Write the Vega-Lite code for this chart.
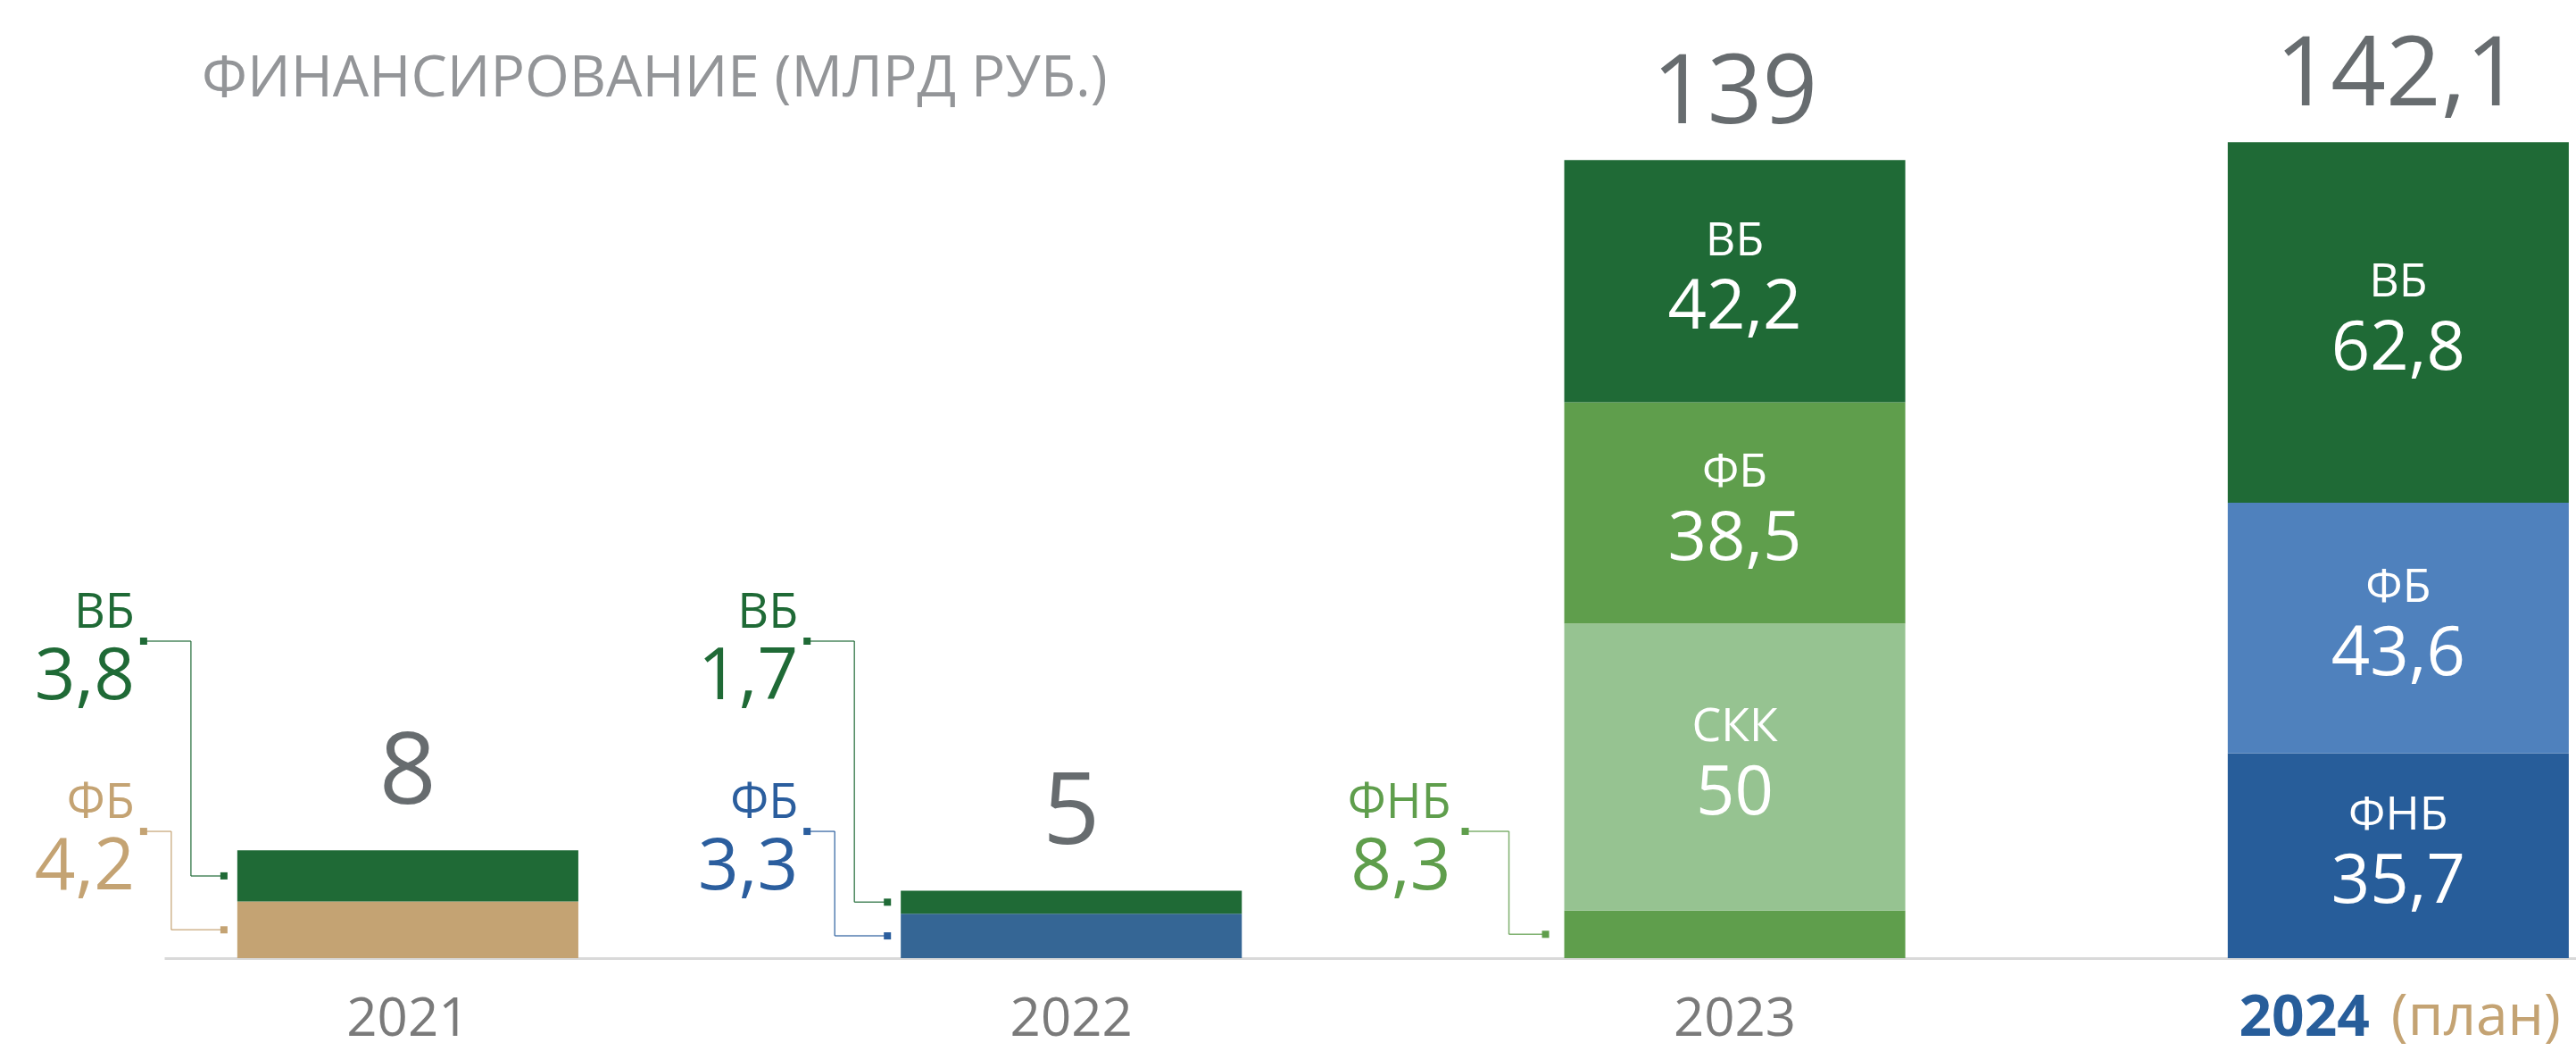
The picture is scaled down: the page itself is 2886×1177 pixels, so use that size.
{
  "$schema": "https://vega.github.io/schema/vega-lite/v6.json",
  "width": 2702,
  "height": 943,
  "padding": {"left": 184, "top": 130, "right": 0, "bottom": 104},
  "autosize": {"type": "none"},
  "background": "white",
  "config": {
    "view": {"stroke": null},
    "font": "Open Sans",
    "locale": {"number": {"decimal": ",", "thousands": "\u00a0", "grouping": [3], "currency": ["", "\u00a0₽"]}}
  },
  "title": {
    "text": "ФИНАНСИРОВАНИЕ (МЛРД РУБ.)",
    "anchor": "start",
    "frame": "group",
    "orient": "top",
    "offset": -140,
    "dx": 42,
    "baseline": "alphabetic",
    "fontSize": 64,
    "fontWeight": "normal",
    "font": "Open Sans",
    "color": "#939598"
  },
  "datasets": {
    "funding": [
      {"year": "2021", "source": "ФБ", "value": 4.2},
      {"year": "2021", "source": "ВБ", "value": 3.8},
      {"year": "2022", "source": "ФБ", "value": 3.3},
      {"year": "2022", "source": "ВБ", "value": 1.7},
      {"year": "2023", "source": "ФНБ", "value": 8.3},
      {"year": "2023", "source": "СКК", "value": 50},
      {"year": "2023", "source": "ФБ", "value": 38.5},
      {"year": "2023", "source": "ВБ", "value": 42.2},
      {"year": "2024", "source": "ФНБ", "value": 35.7},
      {"year": "2024", "source": "ФБ", "value": 43.6},
      {"year": "2024", "source": "ВБ", "value": 62.8}
    ]
  },
  "data": {"name": "funding"},
  "encoding": {
    "x": {
      "field": "year",
      "type": "nominal",
      "scale": {"domain": ["2021", "2022", "2023", "2024"], "paddingInner": 0.486, "paddingOuter": 0.0605, "align": 0.91, "round": false},
      "axis": {
        "title": null,
        "grid": false,
        "ticks": false,
        "tickSize": 0,
        "domainColor": "#d9d9d9",
        "domainWidth": 3,
        "labelAngle": 0,
        "labelPadding": 86,
        "labelBaseline": "alphabetic",
        "labelFont": "Open Sans",
        "labelFontSize": {"condition": {"test": "datum.value == '2024'", "value": 64}, "value": 60},
        "labelColor": {"condition": {"test": "datum.value == '2024'", "value": "#275d9a"}, "value": "#7a7a7a"},
        "labelFontWeight": {"condition": {"test": "datum.value == '2024'", "value": "bold"}, "value": "normal"},
        "labelAlign": {"condition": {"test": "datum.value == '2024'", "value": "right"}, "value": "center"},
        "labelOffset": {"condition": {"test": "datum.value == '2024'", "value": -32}, "value": 0}
      }
    }
  },
  "resolve": {"scale": {"y": "independent"}},
  "layer": [
    {
      "transform": [
        {"filter": {"field": "year", "oneOf": ["2021", "2022"]}},
        {"stack": "value", "groupby": ["year"], "as": ["y0", "y1"]},
        {"fold": ["y0", "y1"], "as": ["edge", "edgeValue"]},
        {"aggregate": [
          {"op": "min", "field": "edgeValue", "as": "y0"},
          {"op": "max", "field": "edgeValue", "as": "y1"},
          {"op": "mean", "field": "edgeValue", "as": "mid"}
        ], "groupby": ["year", "source", "value"]}
      ],
      "layer": [
        {
          "mark": {"type": "bar"},
          "encoding": {
            "y": {"field": "y1", "type": "quantitative", "scale": {"domain": [0, 62.45], "nice": false, "zero": true}, "axis": null},
            "y2": {"field": "y0"},
            "color": {"condition": [
              {"test": "datum.source == 'ВБ'", "value": "#1f6a36"},
              {"test": "datum.year == '2021'", "value": "#c4a373"},
              {"test": "datum.year == '2022'", "value": "#356695"},
              {"test": "datum.source == 'СКК'", "value": "#96c391"},
              {"test": "datum.year == '2023'", "value": "#5f9e4c"},
              {"test": "datum.source == 'ФБ'", "value": "#4f81bd"}
            ], "value": "#275d9a"}
          }
        },
        {
          "transform": [{"aggregate": [{"op": "max", "field": "y1", "as": "total"}], "groupby": ["year"]}],
          "mark": {"type": "text", "fontSize": 112, "color": "#676c6f", "baseline": "alphabetic", "align": "center", "dy": -52},
          "encoding": {
            "y": {"field": "total", "type": "quantitative", "scale": {"domain": [0, 62.45], "nice": false, "zero": true}, "axis": null},
            "text": {"field": "total", "type": "quantitative", "format": "~r"}
          }
        },
        {
          "transform": [{"filter": {"field": "source", "equal": "ВБ"}}],
          "encoding": {
            "color": {"condition": [
              {"test": "datum.source == 'ВБ'", "value": "#1f6a36"},
              {"test": "datum.year == '2021'", "value": "#c4a373"},
              {"test": "datum.year == '2022'", "value": "#2b5e9e"}
            ], "value": "#5f9e4c"}
          },
          "layer": [
            {
              "mark": {"type": "text", "align": "right", "baseline": "alphabetic", "dx": -306, "dy": -15, "fontSize": 54},
              "encoding": {
                "y": {"datum": 23.51, "type": "quantitative", "scale": {"domain": [0, 62.45], "nice": false, "zero": true}, "axis": null},
                "text": {"field": "source", "type": "nominal"}
              }
            },
            {
              "mark": {"type": "text", "align": "right", "baseline": "alphabetic", "dx": -306, "dy": 65, "fontSize": 80},
              "encoding": {
                "y": {"datum": 23.51, "type": "quantitative", "scale": {"domain": [0, 62.45], "nice": false, "zero": true}, "axis": null},
                "text": {"field": "value", "type": "quantitative", "format": "~r"}
              }
            },
            {
              "mark": {"type": "square", "size": 64, "filled": true, "opacity": 1, "xOffset": -296},
              "encoding": {
                "y": {"datum": 23.51, "type": "quantitative", "scale": {"domain": [0, 62.45], "nice": false, "zero": true}, "axis": null}
              }
            },
            {
              "mark": {"type": "tick", "orient": "horizontal", "size": 53, "thickness": 1.5, "opacity": 0.8, "xOffset": -269.5},
              "encoding": {
                "y": {"datum": 23.51, "type": "quantitative", "scale": {"domain": [0, 62.45], "nice": false, "zero": true}, "axis": null}
              }
            },
            {
              "mark": {"type": "rule", "strokeWidth": 1.5, "opacity": 0.8, "xOffset": -243},
              "encoding": {
                "y": {"field": "mid", "type": "quantitative", "scale": {"domain": [0, 62.45], "nice": false, "zero": true}, "axis": null},
                "y2": {"datum": 23.51}
              }
            },
            {
              "mark": {"type": "tick", "orient": "horizontal", "size": 37, "thickness": 1.5, "opacity": 0.8, "xOffset": -224.5},
              "encoding": {
                "y": {"field": "mid", "type": "quantitative", "scale": {"domain": [0, 62.45], "nice": false, "zero": true}, "axis": null}
              }
            },
            {
              "mark": {"type": "square", "size": 64, "filled": true, "opacity": 1, "xOffset": -206},
              "encoding": {
                "y": {"field": "mid", "type": "quantitative", "scale": {"domain": [0, 62.45], "nice": false, "zero": true}, "axis": null}
              }
            }
          ]
        },
        {
          "transform": [{"filter": {"field": "source", "equal": "ФБ"}}],
          "encoding": {
            "color": {"condition": [
              {"test": "datum.source == 'ВБ'", "value": "#1f6a36"},
              {"test": "datum.year == '2021'", "value": "#c4a373"},
              {"test": "datum.year == '2022'", "value": "#2b5e9e"}
            ], "value": "#5f9e4c"}
          },
          "layer": [
            {
              "mark": {"type": "text", "align": "right", "baseline": "alphabetic", "dx": -306, "dy": -15, "fontSize": 54},
              "encoding": {
                "y": {"datum": 9.4, "type": "quantitative", "scale": {"domain": [0, 62.45], "nice": false, "zero": true}, "axis": null},
                "text": {"field": "source", "type": "nominal"}
              }
            },
            {
              "mark": {"type": "text", "align": "right", "baseline": "alphabetic", "dx": -306, "dy": 65, "fontSize": 80},
              "encoding": {
                "y": {"datum": 9.4, "type": "quantitative", "scale": {"domain": [0, 62.45], "nice": false, "zero": true}, "axis": null},
                "text": {"field": "value", "type": "quantitative", "format": "~r"}
              }
            },
            {
              "mark": {"type": "square", "size": 64, "filled": true, "opacity": 1, "xOffset": -296},
              "encoding": {
                "y": {"datum": 9.4, "type": "quantitative", "scale": {"domain": [0, 62.45], "nice": false, "zero": true}, "axis": null}
              }
            },
            {
              "mark": {"type": "tick", "orient": "horizontal", "size": 31, "thickness": 1.5, "opacity": 0.8, "xOffset": -280.5},
              "encoding": {
                "y": {"datum": 9.4, "type": "quantitative", "scale": {"domain": [0, 62.45], "nice": false, "zero": true}, "axis": null}
              }
            },
            {
              "mark": {"type": "rule", "strokeWidth": 1.5, "opacity": 0.8, "xOffset": -265},
              "encoding": {
                "y": {"field": "mid", "type": "quantitative", "scale": {"domain": [0, 62.45], "nice": false, "zero": true}, "axis": null},
                "y2": {"datum": 9.4}
              }
            },
            {
              "mark": {"type": "tick", "orient": "horizontal", "size": 59, "thickness": 1.5, "opacity": 0.8, "xOffset": -235.5},
              "encoding": {
                "y": {"field": "mid", "type": "quantitative", "scale": {"domain": [0, 62.45], "nice": false, "zero": true}, "axis": null}
              }
            },
            {
              "mark": {"type": "square", "size": 64, "filled": true, "opacity": 1, "xOffset": -206},
              "encoding": {
                "y": {"field": "mid", "type": "quantitative", "scale": {"domain": [0, 62.45], "nice": false, "zero": true}, "axis": null}
              }
            }
          ]
        }
      ]
    },
    {
      "transform": [
        {"filter": {"field": "year", "oneOf": ["2023", "2024"]}},
        {"stack": "value", "groupby": ["year"], "as": ["y0", "y1"]},
        {"fold": ["y0", "y1"], "as": ["edge", "edgeValue"]},
        {"aggregate": [
          {"op": "min", "field": "edgeValue", "as": "y0"},
          {"op": "max", "field": "edgeValue", "as": "y1"},
          {"op": "mean", "field": "edgeValue", "as": "mid"}
        ], "groupby": ["year", "source", "value"]}
      ],
      "layer": [
        {
          "mark": {"type": "bar"},
          "encoding": {
            "y": {"field": "y1", "type": "quantitative", "scale": {"domain": [0, 146.66], "nice": false, "zero": true}, "axis": null},
            "y2": {"field": "y0"},
            "color": {"condition": [
              {"test": "datum.source == 'ВБ'", "value": "#1f6a36"},
              {"test": "datum.year == '2021'", "value": "#c4a373"},
              {"test": "datum.year == '2022'", "value": "#356695"},
              {"test": "datum.source == 'СКК'", "value": "#96c391"},
              {"test": "datum.year == '2023'", "value": "#5f9e4c"},
              {"test": "datum.source == 'ФБ'", "value": "#4f81bd"}
            ], "value": "#275d9a"}
          }
        },
        {
          "transform": [{"aggregate": [{"op": "max", "field": "y1", "as": "total"}], "groupby": ["year"]}],
          "mark": {"type": "text", "fontSize": 108, "color": "#676c6f", "baseline": "alphabetic", "align": "center", "dy": -41},
          "encoding": {
            "y": {"field": "total", "type": "quantitative", "scale": {"domain": [0, 146.66], "nice": false, "zero": true}, "axis": null},
            "text": {"field": "total", "type": "quantitative", "format": "~r"}
          }
        },
        {
          "transform": [{"filter": "datum.value >= 10"}],
          "layer": [
            {
              "mark": {"type": "text", "align": "center", "baseline": "alphabetic", "dy": -29, "fontSize": 52, "color": "#ffffff"},
              "encoding": {
                "y": {"field": "mid", "type": "quantitative", "scale": {"domain": [0, 146.66], "nice": false, "zero": true}, "axis": null},
                "text": {"field": "source", "type": "nominal"}
              }
            },
            {
              "mark": {"type": "text", "align": "center", "baseline": "alphabetic", "dy": 53, "fontSize": 76, "color": "#ffffff"},
              "encoding": {
                "y": {"field": "mid", "type": "quantitative", "scale": {"domain": [0, 146.66], "nice": false, "zero": true}, "axis": null},
                "text": {"field": "value", "type": "quantitative", "format": "~r"}
              }
            }
          ]
        },
        {
          "transform": [{"filter": "datum.value < 10"}],
          "encoding": {
            "color": {"condition": [
              {"test": "datum.source == 'ВБ'", "value": "#1f6a36"},
              {"test": "datum.year == '2021'", "value": "#c4a373"},
              {"test": "datum.year == '2022'", "value": "#2b5e9e"}
            ], "value": "#5f9e4c"}
          },
          "layer": [
            {
              "mark": {"type": "text", "align": "right", "baseline": "alphabetic", "dx": -318, "dy": -15, "fontSize": 54},
              "encoding": {
                "y": {"datum": 22.08, "type": "quantitative", "scale": {"domain": [0, 146.66], "nice": false, "zero": true}, "axis": null},
                "text": {"field": "source", "type": "nominal"}
              }
            },
            {
              "mark": {"type": "text", "align": "right", "baseline": "alphabetic", "dx": -318, "dy": 65, "fontSize": 80},
              "encoding": {
                "y": {"datum": 22.08, "type": "quantitative", "scale": {"domain": [0, 146.66], "nice": false, "zero": true}, "axis": null},
                "text": {"field": "value", "type": "quantitative", "format": "~r"}
              }
            },
            {
              "mark": {"type": "square", "size": 64, "filled": true, "opacity": 1, "xOffset": -302},
              "encoding": {
                "y": {"datum": 22.08, "type": "quantitative", "scale": {"domain": [0, 146.66], "nice": false, "zero": true}, "axis": null}
              }
            },
            {
              "mark": {"type": "tick", "orient": "horizontal", "size": 49, "thickness": 1.5, "opacity": 0.8, "xOffset": -277.5},
              "encoding": {
                "y": {"datum": 22.08, "type": "quantitative", "scale": {"domain": [0, 146.66], "nice": false, "zero": true}, "axis": null}
              }
            },
            {
              "mark": {"type": "rule", "strokeWidth": 1.5, "opacity": 0.8, "xOffset": -253},
              "encoding": {
                "y": {"field": "mid", "type": "quantitative", "scale": {"domain": [0, 146.66], "nice": false, "zero": true}, "axis": null},
                "y2": {"datum": 22.08}
              }
            },
            {
              "mark": {"type": "tick", "orient": "horizontal", "size": 41, "thickness": 1.5, "opacity": 0.8, "xOffset": -232.5},
              "encoding": {
                "y": {"field": "mid", "type": "quantitative", "scale": {"domain": [0, 146.66], "nice": false, "zero": true}, "axis": null}
              }
            },
            {
              "mark": {"type": "square", "size": 64, "filled": true, "opacity": 1, "xOffset": -212},
              "encoding": {
                "y": {"field": "mid", "type": "quantitative", "scale": {"domain": [0, 146.66], "nice": false, "zero": true}, "axis": null}
              }
            }
          ]
        },
        {
          "transform": [{"filter": "datum.year == '2024' && datum.source == 'ВБ'"}],
          "mark": {"type": "text", "text": "(план)", "align": "left", "baseline": "alphabetic", "dx": -8, "dy": 86, "fontSize": 64, "color": "#c4a373"},
          "encoding": {
            "y": {"datum": 0, "type": "quantitative", "scale": {"domain": [0, 146.66], "nice": false, "zero": true}, "axis": null}
          }
        }
      ]
    }
  ]
}
